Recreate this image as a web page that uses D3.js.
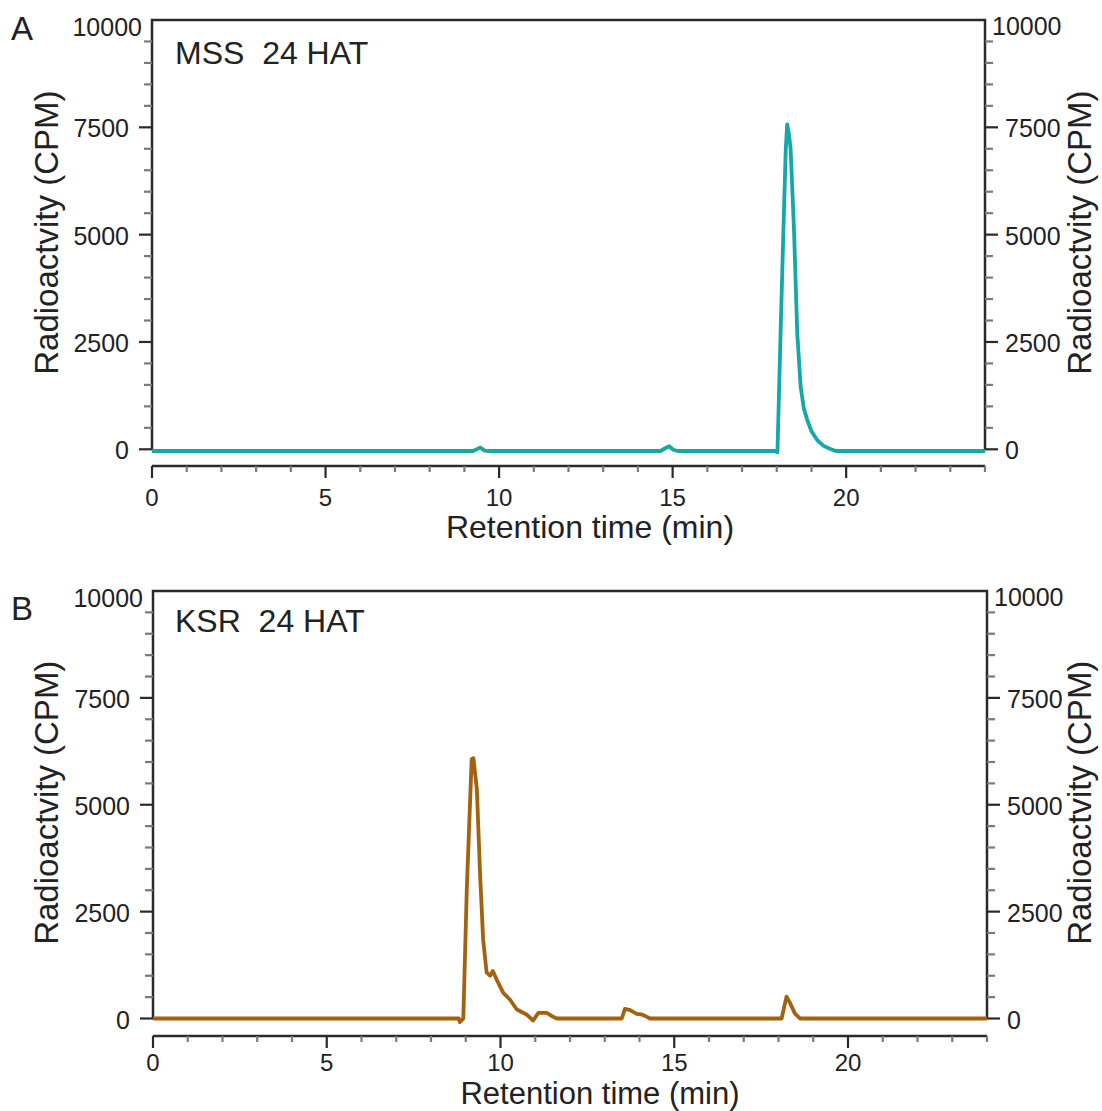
<!DOCTYPE html>
<html>
<head>
<meta charset="utf-8">
<script src="https://cdn.jsdelivr.net/npm/d3@7"></script>
<style>
  html, body { margin: 0; padding: 0; background: #fff; }
  svg { display: block; }
  text { font-family: "Liberation Sans", Arial, Helvetica, sans-serif; fill: #222; }
</style>
</head>
<body>
<svg id="chart" width="1102" height="1111"></svg>
<script>
// ---- Data ----
const xTicks = [0, 5, 10, 15, 20];
const yTicks = [0, 2500, 5000, 7500, 10000];
const panelLabels = ["A", "B"];
const panelTitles = ["MSS  24 HAT", "KSR  24 HAT"];
const xTitle = "Retention time (min)";
const yTitle = "Radioactvity (CPM)";

// Panel A: MSS 24 HAT (retention time min, CPM)
const timeA = [0, 9.25, 9.38, 9.46, 9.58, 9.7, 14.65, 14.8, 14.9, 15.02, 15.15, 17.95, 18.02, 18.11, 18.19, 18.26, 18.30, 18.35, 18.40, 18.50, 18.59, 18.69, 18.78, 18.88, 19.0, 19.17, 19.35, 19.56, 19.7, 24];
const cpmA  = [-40, -40, 10, 40, -30, -40, -40, 30, 70, -10, -40, -40, -70, 2700, 5050, 7000, 7570, 7350, 6990, 5050, 2710, 1450, 950, 680, 420, 210, 80, 0, -40, -40];

// Panel B: KSR 24 HAT
const timeB = [0, 8.80, 8.83, 8.93, 9.03, 9.17, 9.22, 9.32, 9.41, 9.50, 9.60, 9.70, 9.78, 9.89, 10.08, 10.27, 10.47, 10.75, 10.94, 11.09, 11.33, 11.47, 11.62, 13.49, 13.58, 13.73, 13.92, 14.06, 14.16, 14.30, 18.09, 18.23, 18.33, 18.47, 18.62, 24];
const cpmB  = [0, 0, -85, 0, 3020, 6065, 6090, 5360, 3420, 1850, 1080, 1000, 1110, 910, 600, 445, 210, 94, -47, 130, 130, 60, 0, 0, 225, 195, 110, 95, 60, 0, 0, 510, 370, 120, 0, 0];

const seriesColors = ["#14a8a8", "#a3620f"];

// ---- Layout ----
const panels = [
  { x0: 152, x1: 985, yTop: 20, yZero: 449.3, xAxisY: 466, xLabelDy: 40, xTitleX: 590, xTitleY: 538, xTitleSize: 32, labelY: 40, titleY: 64,
    time: timeA, cpm: cpmA },
  { x0: 153, x1: 987, yTop: 591, yZero: 1018.5, xAxisY: 1036, xLabelDy: 35, xTitleX: 600, xTitleY: 1104, xTitleSize: 31, labelY: 620, titleY: 632,
    time: timeB, cpm: cpmB }
];

const svg = d3.select("#chart");

panels.forEach((p, i) => {
  const x = d3.scaleLinear().domain([0, 24]).range([p.x0, p.x1]);
  const y = d3.scaleLinear().domain([0, 10000]).range([p.yZero, p.yTop]);
  const g = svg.append("g");

  // Frame: left axis, top, right axis (open bottom)
  g.append("path")
    .attr("d", `M${p.x0},${p.yZero}V${p.yTop}H${p.x1}V${p.yZero}`)
    .attr("fill", "none").attr("stroke", "#2a2a2a").attr("stroke-width", 2.5);

  // Y ticks (every 500, major every 2500), both sides
  const yMinor = d3.range(0, 10000, 500);
  yMinor.forEach(v => {
    const major = v % 2500 === 0;
    const len = major ? 13 : 8;
    const col = major ? "#2a2a2a" : "#7a7a7a";
    g.append("line").attr("x1", p.x0 - len).attr("x2", p.x0).attr("y1", y(v)).attr("y2", y(v))
      .attr("stroke", col).attr("stroke-width", 2.2);
    g.append("line").attr("x1", p.x1).attr("x2", p.x1 + len).attr("y1", y(v)).attr("y2", y(v))
      .attr("stroke", col).attr("stroke-width", 2.2);
  });

  // Y tick labels
  yTicks.forEach(v => {
    const top = v === 10000;
    g.append("text")
      .attr("x", top ? p.x0 - 10 : p.x0 - 23)
      .attr("y", y(v) + (top ? 7 : 1))
      .attr("text-anchor", "end").attr("dominant-baseline", "central")
      .attr("font-size", 25).text(v);
    g.append("text")
      .attr("x", top ? p.x1 + 7 : p.x1 + 20)
      .attr("y", y(v) + (top ? 6 : 1))
      .attr("text-anchor", "start").attr("dominant-baseline", "central")
      .attr("font-size", 25).text(v);
  });

  // X axis (offset below)
  const xAxisG = g.append("g");
  xAxisG.append("line").attr("x1", p.x0).attr("x2", p.x1).attr("y1", p.xAxisY).attr("y2", p.xAxisY)
    .attr("stroke", "#2a2a2a").attr("stroke-width", 2.5);
  d3.range(0, 25, 1).forEach(t => {
    const major = t % 5 === 0;
    xAxisG.append("line").attr("x1", x(t)).attr("x2", x(t))
      .attr("y1", p.xAxisY).attr("y2", p.xAxisY + (major ? 12 : 6))
      .attr("stroke", major ? "#2a2a2a" : "#7a7a7a").attr("stroke-width", 2.2);
  });
  xTicks.forEach(t => {
    xAxisG.append("text").attr("x", x(t)).attr("y", p.xAxisY + p.xLabelDy)
      .attr("text-anchor", "middle").attr("font-size", 24).text(t);
  });

  // Axis titles
  g.append("text").attr("x", p.xTitleX).attr("y", p.xTitleY)
    .attr("text-anchor", "middle").attr("font-size", p.xTitleSize).text(xTitle);
  const yc = (p.yTop + p.yZero) / 2 - 2;
  g.append("text").attr("transform", `translate(58,${yc}) rotate(-90)`)
    .attr("text-anchor", "middle").attr("font-size", 33).text(yTitle);
  g.append("text").attr("transform", `translate(1091,${yc}) rotate(-90)`)
    .attr("text-anchor", "middle").attr("font-size", 33).text(yTitle);

  // Panel label and title
  g.append("text").attr("x", 11).attr("y", p.labelY).attr("font-size", 33).text(panelLabels[i]);
  g.append("text").attr("x", 175).attr("y", p.titleY).attr("font-size", 32)
    .style("white-space", "pre").text(panelTitles[i]);

  // Data line
  const pts = p.time.map((t, k) => [t, p.cpm[k]]);
  const line = d3.line().x(d => x(d[0])).y(d => y(d[1]));
  g.append("path").datum(pts).attr("d", line)
    .attr("fill", "none").attr("stroke", seriesColors[i]).attr("stroke-width", 3.8)
    .attr("stroke-linejoin", "round");
});
</script>
</body>
</html>
